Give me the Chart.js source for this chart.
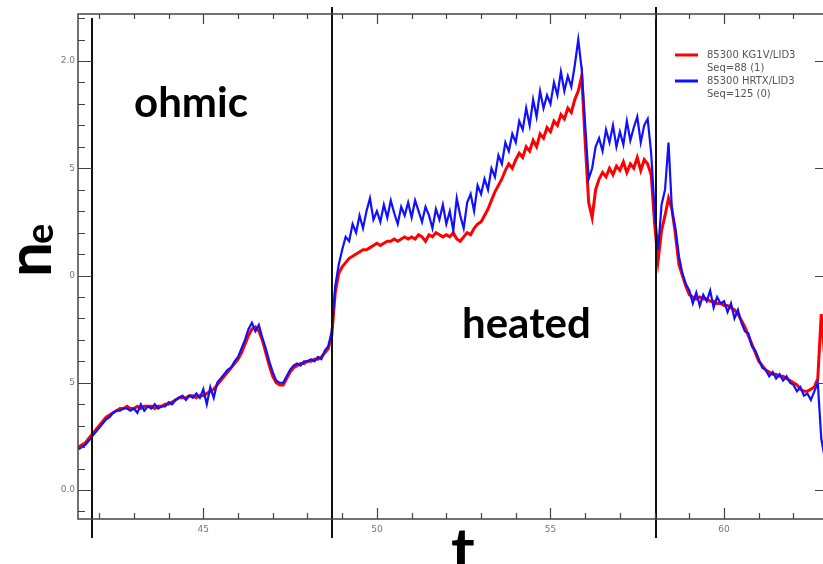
<!DOCTYPE html>
<html>
<head>
<meta charset="utf-8">
<script src="https://cdn.jsdelivr.net/npm/chart.js@4.4.1/dist/chart.umd.min.js"></script>
<style>
  html, body { margin: 0; padding: 0; background: #fff; }
  #wrap { width: 823px; height: 564px; position: relative; }
</style>
</head>
<body>
<div id="wrap"><canvas id="neChart"></canvas></div>
<script>
// sampling grid of the traces (s)
const T_START = 41.4;
const T_STEP = 0.1;

// 85300 KG1V/LID3 (red), every 0.1 s
const kg1vValues = [
  0.20, 0.21, 0.22, 0.24, 0.26, 0.28,
  0.30, 0.32, 0.34, 0.35, 0.36, 0.37, 0.38, 0.38, 0.39, 0.38,
  0.38, 0.39, 0.38, 0.39, 0.39, 0.39, 0.38, 0.39, 0.39, 0.40,
  0.40, 0.41, 0.42, 0.43, 0.43, 0.43, 0.44, 0.44, 0.43, 0.44,
  0.44, 0.45, 0.46, 0.47, 0.49, 0.51, 0.53, 0.55, 0.57, 0.59,
  0.61, 0.64, 0.68, 0.72, 0.75, 0.76, 0.74, 0.70, 0.64, 0.58,
  0.53, 0.50, 0.49, 0.49, 0.52, 0.55, 0.57, 0.58, 0.59, 0.59,
  0.60, 0.60, 0.61, 0.61, 0.62, 0.64, 0.66, 0.72, 0.92, 1.01,
  1.04, 1.06, 1.08, 1.09, 1.10, 1.11, 1.12, 1.12, 1.13, 1.14,
  1.15, 1.14, 1.15, 1.16, 1.16, 1.17, 1.16, 1.17, 1.18, 1.17,
  1.18, 1.17, 1.19, 1.18, 1.16, 1.19, 1.18, 1.20, 1.19, 1.18,
  1.19, 1.18, 1.20, 1.17, 1.16, 1.18, 1.20, 1.19, 1.22, 1.24,
  1.25, 1.28, 1.31, 1.35, 1.39, 1.42, 1.45, 1.49, 1.52, 1.50,
  1.54, 1.57, 1.55, 1.60, 1.58, 1.63, 1.60, 1.66, 1.64, 1.69,
  1.67, 1.72, 1.70, 1.75, 1.73, 1.78, 1.76, 1.82, 1.86, 1.93,
  1.62, 1.34, 1.27, 1.40, 1.45, 1.48, 1.46, 1.50, 1.47, 1.51,
  1.49, 1.53, 1.48, 1.52, 1.50, 1.55, 1.49, 1.54, 1.52, 1.47,
  1.24, 1.07, 1.21, 1.28, 1.36, 1.31, 1.19, 1.05, 1.00, 0.95,
  0.91, 0.90, 0.89, 0.90, 0.89, 0.89, 0.88, 0.88, 0.87, 0.87,
  0.86, 0.86, 0.85, 0.84, 0.82, 0.79, 0.76, 0.72, 0.68, 0.64,
  0.60, 0.58, 0.56, 0.55, 0.54, 0.54, 0.53, 0.53, 0.52, 0.51,
  0.50, 0.49, 0.47, 0.46, 0.46, 0.47, 0.48, 0.52, 0.82, 0.62
];

// 85300 HRTX/LID3 (blue)
const hrtxValues = [
  0.19, 0.20, 0.21, 0.23, 0.25, 0.27,
  0.29, 0.31, 0.33, 0.34, 0.36, 0.37, 0.37, 0.38, 0.38, 0.37,
  0.38, 0.36, 0.40, 0.37, 0.39, 0.38, 0.40, 0.38, 0.39, 0.39,
  0.41, 0.40, 0.42, 0.43, 0.44, 0.42, 0.44, 0.43, 0.45, 0.43,
  0.47, 0.40, 0.48, 0.43, 0.50, 0.52, 0.54, 0.56, 0.57, 0.60,
  0.62, 0.66, 0.70, 0.75, 0.78, 0.74, 0.77, 0.71, 0.66, 0.60,
  0.55, 0.51, 0.50, 0.50, 0.53, 0.56, 0.58, 0.59, 0.58, 0.60,
  0.60, 0.61, 0.60, 0.62, 0.61, 0.65, 0.67, 0.74, 0.95, 1.05,
  1.12, 1.18, 1.16, 1.24, 1.20, 1.28, 1.22, 1.30, 1.36, 1.26,
  1.30, 1.25, 1.33, 1.27, 1.35, 1.29, 1.24, 1.32, 1.28, 1.34,
  1.27, 1.35, 1.30, 1.25, 1.32, 1.28, 1.22, 1.31, 1.26, 1.33,
  1.24, 1.30, 1.21, 1.36, 1.28, 1.22, 1.34, 1.38, 1.30, 1.42,
  1.38, 1.45, 1.40, 1.50, 1.46, 1.56, 1.52, 1.62, 1.58, 1.66,
  1.62, 1.72, 1.68, 1.78, 1.70, 1.82, 1.74, 1.86, 1.78, 1.84,
  1.80, 1.90, 1.84, 1.95, 1.86, 1.93, 1.88, 1.98, 2.10, 1.96,
  1.70, 1.45, 1.50, 1.60, 1.64, 1.58, 1.68, 1.62, 1.70, 1.60,
  1.67, 1.61, 1.72, 1.63, 1.69, 1.74, 1.62, 1.70, 1.73, 1.57,
  1.30, 1.12, 1.33, 1.40, 1.62, 1.30, 1.22, 1.09, 1.01, 0.96,
  0.93, 0.87, 0.92, 0.86, 0.91, 0.88, 0.93, 0.85, 0.90, 0.87,
  0.88, 0.83, 0.87, 0.80, 0.84, 0.78, 0.74, 0.73, 0.67, 0.65,
  0.61, 0.57, 0.56, 0.53, 0.55, 0.52, 0.54, 0.51, 0.53, 0.50,
  0.49, 0.46, 0.48, 0.44, 0.45, 0.42, 0.46, 0.50, 0.24, 0.15
];

const xTickValues = [45, 50, 55, 60];
const yTickValues = [0, 0.5, 1.0, 1.5, 2.0];
const yTickLabels = ['0.0', '5', '0', '5', '2.0'];
const phaseMarkers = [41.8, 48.71, 58.05];
const seriesLabels = ['85300 KG1V/LID3', '85300 HRTX/LID3'];
const seriesSeq = ['Seq=88 (1)', 'Seq=125 (0)'];
const seriesColors = ['rgb(255,0,0)', 'rgb(16,16,255)'];

const times = kg1vValues.map((_, i) => +(T_START + i * T_STEP).toFixed(2));
const toPoints = vals => vals.map((v, i) => ({ x: times[i], y: v }));

const framePlugin = {
  id: 'frame',
  afterDatasetsDraw(chart) {
    const { ctx, chartArea: a, scales: { x, y } } = chart;
    ctx.save();

    // phase markers
    ctx.strokeStyle = '#111';
    ctx.lineWidth = 2;
    phaseMarkers.forEach((t, i) => {
      const px = Math.round(x.getPixelForValue(t));
      ctx.beginPath();
      ctx.moveTo(px, i === 0 ? 18 : 7);
      ctx.lineTo(px, 538);
      ctx.stroke();
    });

    // box
    ctx.strokeStyle = '#444';
    ctx.lineWidth = 1.5;
    ctx.beginPath();
    ctx.moveTo(a.right + 2, a.top);
    ctx.lineTo(a.left, a.top);
    ctx.lineTo(a.left, a.bottom);
    ctx.lineTo(a.right + 2, a.bottom);
    ctx.stroke();

    // x tick marks, bottom and top
    ctx.lineWidth = 1.2;
    ctx.beginPath();
    for (let t = 42; t <= 62; t++) {
      const px = Math.round(x.getPixelForValue(t)) + 0.5;
      const major = t % 5 === 0;
      ctx.moveTo(px, a.bottom);
      ctx.lineTo(px, a.bottom - (major ? 11 : 6));
      ctx.moveTo(px, a.top);
      ctx.lineTo(px, a.top + (major ? 10 : 5));
    }
    // y tick marks
    for (let k = -1; k <= 22; k++) {
      const py = Math.round(y.getPixelForValue(k / 10)) + 0.5;
      const major = k % 5 === 0;
      ctx.moveTo(a.left, py);
      ctx.lineTo(a.left + (major ? 14 : 7), py);
      if (major) {
        ctx.moveTo(a.right, py);
        ctx.lineTo(a.right - 8, py);
      }
    }
    ctx.stroke();

    // legend
    ctx.font = '10px "DejaVu Sans"';
    ctx.textBaseline = 'middle';
    ctx.textAlign = 'left';
    [55, 81].forEach((ly, i) => {
      ctx.strokeStyle = seriesColors[i];
      ctx.lineWidth = 3;
      ctx.beginPath();
      ctx.moveTo(675, ly);
      ctx.lineTo(698, ly);
      ctx.stroke();
      ctx.fillStyle = '#555';
      ctx.fillText(seriesLabels[i], 707, ly);
      ctx.fillText(seriesSeq[i], 707, ly + 13.5);
    });

    // annotations
    ctx.fillStyle = '#000';
    ctx.font = 'bold 42px Lato';
    ctx.textBaseline = 'alphabetic';
    ctx.fillText('ohmic', 134, 117);
    ctx.fillText('heated', 462, 338);

    ctx.font = 'bold 64px Lato';
    ctx.textAlign = 'center';
    ctx.fillText('t', 463, 573);

    ctx.translate(51, 277);
    ctx.rotate(-Math.PI / 2);
    ctx.textAlign = 'left';
    ctx.font = 'bold 62px Lato';
    ctx.fillText('n', 0, 0);
    const nw = ctx.measureText('n').width;
    ctx.font = 'bold 38px Lato';
    ctx.fillText('e', nw - 2, 2);

    ctx.restore();
  }
};

new Chart(document.getElementById('neChart').getContext('2d'), {
  type: 'line',
  data: {
    datasets: [{
      label: seriesLabels[0],
      data: toPoints(kg1vValues),
      borderColor: seriesColors[0],
      borderWidth: 3,
      pointRadius: 0,
      tension: 0,
      order: 1
    }, {
      label: seriesLabels[1],
      data: toPoints(hrtxValues),
      borderColor: seriesColors[1],
      borderWidth: 2.2,
      pointRadius: 0,
      tension: 0,
      order: 0
    }]
  },
  options: {
    responsive: true,
    maintainAspectRatio: false,
    animation: false,
    devicePixelRatio: 1,
    layout: { padding: { top: 14, right: 0, left: 0, bottom: 0 } },
    plugins: { legend: { display: false }, tooltip: { enabled: false } },
    scales: {
      x: {
        type: 'linear',
        min: 41.39,
        max: 62.85,
        grid: { display: false, drawTicks: false },
        border: { display: false },
        afterBuildTicks: s => { s.ticks = xTickValues.map(v => ({ value: v })); },
        afterFit: s => { s.height = 45; },
        ticks: {
          padding: 5,
          maxRotation: 0,
          color: '#777',
          font: { family: 'DejaVu Sans', size: 9 },
          callback: v => String(v)
        }
      },
      y: {
        min: -0.135,
        max: 2.219,
        grid: { display: false, drawTicks: false },
        border: { display: false },
        afterBuildTicks: s => { s.ticks = yTickValues.map(v => ({ value: v })); },
        afterFit: s => { s.width = 78; },
        ticks: {
          padding: 3,
          color: '#777',
          font: { family: 'DejaVu Sans', size: 9 },
          callback: (v) => yTickLabels[yTickValues.indexOf(v)]
        }
      }
    }
  },
  plugins: [framePlugin]
});
</script>
</body>
</html>
